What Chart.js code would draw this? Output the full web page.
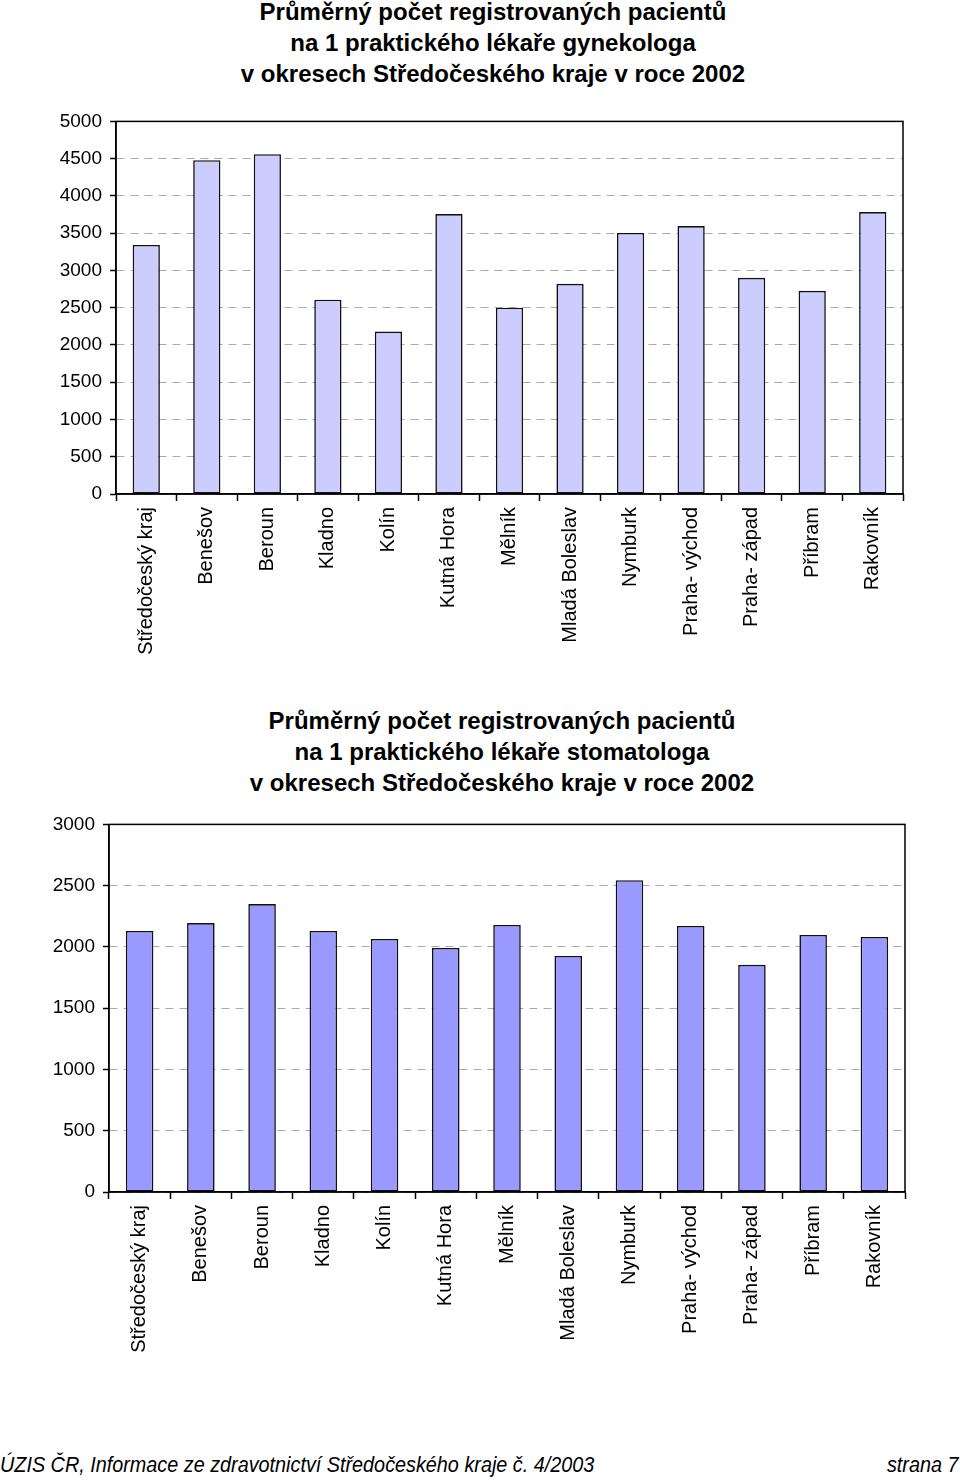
<!DOCTYPE html>
<html>
<head>
<meta charset="utf-8">
<script src="https://cdn.jsdelivr.net/npm/chart.js@4/dist/chart.umd.min.js"></script>
<style>
  body { margin: 0; width: 960px; height: 1480px; background: #fff; position: relative; overflow: hidden;
         font-family: "Liberation Sans", Arial, sans-serif; }
  .title { position: absolute; font-weight: bold; font-size: 24px; line-height: 31px; text-align: center; color: #000; white-space: nowrap; }
  .box { position: absolute; left: 0; width: 960px; }
  .foot { position: absolute; top: 1452px; font-style: italic; font-size: 22px; white-space: nowrap;
          font-family: "Liberation Sans Narrow", "Liberation Sans", Arial, sans-serif; }
</style>
</head>
<body>
<div class="title" style="left:193px; width:600px; top:-4px;">Průměrný počet registrovaných pacientů<br>na 1 praktického lékaře gynekologa<br>v okresech Středočeského kraje v roce 2002</div>
<div class="box" style="top:102px; height:578px;"><canvas id="gyn"></canvas></div>

<div class="title" style="left:202px; width:600px; top:705px;">Průměrný počet registrovaných pacientů<br>na 1 praktického lékaře stomatologa<br>v okresech Středočeského kraje v roce 2002</div>
<div class="box" style="top:805px; height:587px;"><canvas id="stom"></canvas></div>

<div class="foot" style="left:0; transform: scaleX(0.9); transform-origin: left center;">ÚZIS ČR, Informace ze zdravotnictví Středočeského kraje č. 4/2003</div>
<div class="foot" style="right:2px; transform: scaleX(0.9); transform-origin: right center;">strana 7</div>

<script>
  var districts = ['Středočeský kraj', 'Benešov', 'Beroun', 'Kladno', 'Kolín', 'Kutná Hora', 'Mělník',
                   'Mladá Boleslav', 'Nymburk', 'Praha- východ', 'Praha- západ', 'Příbram', 'Rakovník'];
  var gynecologist = [3342, 4479, 4559, 2607, 2179, 3757, 2500, 2821, 3503, 3596, 2901, 2727, 3783];
  var dentist = [2130, 2195, 2350, 2130, 2065, 1992, 2179, 1927, 2545, 2171, 1854, 2098, 2081];
  var gynTicks = { max: 5000, step: 500 };
  var stomTicks = { max: 3000, step: 500 };

  Chart.defaults.font.family = '"Liberation Sans", Arial, sans-serif';
  Chart.defaults.color = '#000';

  // frame around the plot area (top and right sides)
  var frame = {
    id: 'frame',
    afterDraw: function (chart) {
      var a = chart.chartArea, c = chart.ctx;
      c.save();
      c.strokeStyle = '#000';
      c.lineWidth = 1.5;
      c.strokeRect(a.left, a.top, a.right - a.left, a.bottom - a.top);
      c.restore();
    }
  };

  function makeChart(id, values, fill, ticks, yWidth, xHeight, padRight) {
    var ctx = document.getElementById(id).getContext('2d');
    return new Chart(ctx, {
      type: 'bar',
      data: {
        labels: districts,
        datasets: [{
          data: values,
          backgroundColor: fill,
          borderColor: '#111',
          borderWidth: 1.6,
          borderSkipped: false,
          barPercentage: 0.45,
          categoryPercentage: 1
        }]
      },
      options: {
        responsive: true,
        maintainAspectRatio: false,
        animation: false,
        layout: { padding: { left: 0, right: padRight, top: 0, bottom: 0 } },
        plugins: { legend: { display: false }, tooltip: { enabled: false } },
        scales: {
          x: {
            grid: { offset: true, drawOnChartArea: false, drawTicks: true, tickLength: 7, tickColor: '#000', tickWidth: 1.5 },
            border: { display: true, color: '#000', width: 1.5 },
            ticks: { minRotation: 90, maxRotation: 90, font: { size: 20 }, padding: 6, autoSkip: false },
            afterFit: function (s) { s.height = xHeight; }
          },
          y: {
            min: 0, max: ticks.max,
            grid: { color: '#aaa', lineWidth: 1, tickLength: 6, tickColor: '#000', tickWidth: 1.5, tickBorderDash: [] },
            border: { display: true, color: '#000', width: 1.5, dash: [8, 6] },
            ticks: { stepSize: ticks.step, font: { size: 19 }, padding: 8,
                     callback: function (v) { return String(v); } },
            afterFit: function (s) { s.width = yWidth; }
          }
        }
      },
      plugins: [frame]
    });
  }

  makeChart('gyn', gynecologist, '#ccccff', gynTicks, 116, 186, 57);
  makeChart('stom', dentist, '#9999ff', stomTicks, 109, 200, 55);
</script>
</body>
</html>
